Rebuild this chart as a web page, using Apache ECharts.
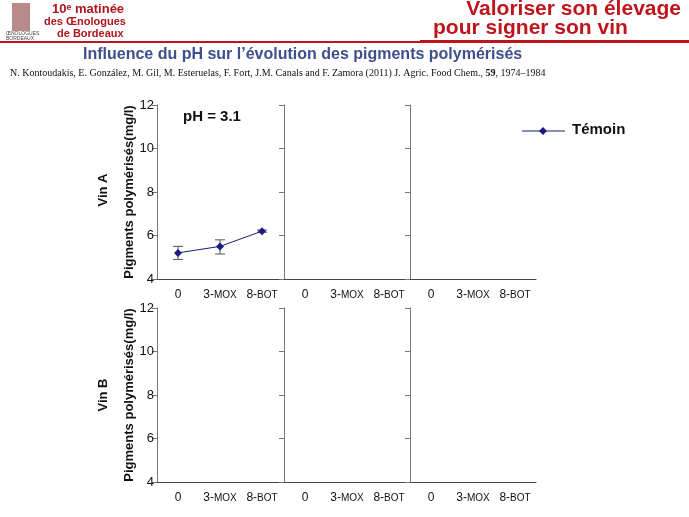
<!DOCTYPE html><html><head><meta charset="utf-8"><script src="https://cdn.jsdelivr.net/npm/echarts@6/dist/echarts.min.js"></script>
<style>html,body{margin:0;background:#fff}#c{width:689px;height:517px}</style></head><body><div id="c"></div><script>
const categories=['0','3-MOX','8-BOT'];
const yTicks=[4,6,8,10,12];
const temoinMean=[5.2,5.5,6.2];
const temoinLow=[4.9,5.15,6.15];
const temoinHigh=[5.5,5.8,6.25];
const rows=['Vin A','Vin B'];
const ch=echarts.init(document.getElementById('c'));
const lefts=[157,284,410], tops=[105,308], W=126, H=174;
const grid=[],xAxis=[],yAxis=[],series=[];
let i=0;
for(let r=0;r<2;r++)for(let c=0;c<3;c++){
 grid.push({left:lefts[c],top:tops[r],width:W,height:H});
 xAxis.push({type:'category',gridIndex:i,data:categories,boundaryGap:true,
  axisLine:{lineStyle:{color:'#444'}},axisTick:{alignWithLabel:true,inside:true,length:4,lineStyle:{color:'#444'}},
  axisLabel:{interval:0,color:'#111',fontSize:12,fontFamily:'Liberation Sans',margin:10,
   formatter:v=>{const p=v.split('-');return p.length>1?p[0]+'-{s|'+p[1]+'}':v;},rich:{s:{fontSize:10,fontFamily:'Liberation Sans',color:'#111'}}}});
 yAxis.push({type:'value',gridIndex:i,min:4,max:12,interval:2,
  name:c===0?'Pigments polymérisés(mg/l)':'',nameLocation:'middle',nameGap:21,nameTextStyle:{fontSize:13,fontWeight:'bold',color:'#111',fontFamily:'Liberation Sans'},
  axisLine:{show:true,lineStyle:{color:'#777'}},axisTick:{show:true,inside:false,length:5,lineStyle:{color:'#777'}},
  axisLabel:{show:c===0,color:'#111',fontSize:13,fontFamily:'Liberation Sans',margin:3,formatter:v=>yTicks.includes(v)?String(v):''},
  splitLine:{show:false}});
 i++;
}
series.push({type:'line',xAxisIndex:0,yAxisIndex:0,data:temoinMean,symbol:'diamond',symbolSize:8,
 lineStyle:{color:'#1a1a80',width:1},itemStyle:{color:'#1a1a80'}});
series.push({type:'custom',xAxisIndex:0,yAxisIndex:0,data:categories.map((c,k)=>[k,temoinLow[k],temoinHigh[k]]),
 renderItem:(p,api)=>{const lo=api.coord([api.value(0),api.value(1)]),hi=api.coord([api.value(0),api.value(2)]);const w=5;
  const st={stroke:'#555',lineWidth:1};
  return {type:'group',children:[{type:'line',shape:{x1:lo[0],y1:lo[1],x2:hi[0],y2:hi[1]},style:st},
   {type:'line',shape:{x1:lo[0]-w,y1:lo[1],x2:lo[0]+w,y2:lo[1]},style:st},
   {type:'line',shape:{x1:hi[0]-w,y1:hi[1],x2:hi[0]+w,y2:hi[1]},style:st}]};},z:1});
const F='Liberation Sans';
ch.setOption({animation:false,grid,xAxis,yAxis,series,
 graphic:[
  {type:'rect',shape:{x:0,y:41,width:689,height:2},style:{fill:'#c0141c'}},
  {type:'rect',shape:{x:420,y:40,width:269,height:3},style:{fill:'#c0141c'}},
  {type:'rect',shape:{x:12,y:3,width:18,height:28},style:{fill:'#b88a8a'}},
  {type:'text',left:6,top:31,style:{text:'ŒNOLOGUES\nBORDEAUX',font:'5px '+F,fill:'#444'}},
  {type:'text',left:52,top:3,style:{text:'10ᵉ matinée',font:'bold 13px '+F,fill:'#b0141c'}},
  {type:'text',left:44,top:16,style:{text:'des Œnologues',font:'bold 11px '+F,fill:'#b0141c'}},
  {type:'text',left:57,top:28,style:{text:'de Bordeaux',font:'bold 11px '+F,fill:'#b0141c'}},
  {type:'text',right:8,top:-1,style:{text:'Valoriser son élevage',font:'bold 21px '+F,fill:'#c0141c'}},
  {type:'text',left:433,top:18,style:{text:'pour signer son vin',font:'bold 21px '+F,fill:'#c0141c'}},
  {type:'text',left:83,top:47,style:{text:'Influence du pH sur l’évolution des pigments polymérisés',font:'bold 16px '+F,fill:'#3d4f8c'}},
  {type:'text',left:10,top:68,style:{rich:{a:{font:'10px Liberation Serif',fill:'#111'},b:{font:'bold 10px Liberation Serif',fill:'#111'}},text:'{a|N. Kontoudakis, E. González, M. Gil, M. Esteruelas, F. Fort, J.M. Canals and F. Zamora (2011) J. Agric. Food Chem., }{b|59}{a|, 1974–1984}'}},
  {type:'text',left:183,top:109,style:{text:'pH = 3.1',font:'bold 15px '+F,fill:'#111'}},
  {type:'text',x:103,y:190,rotation:Math.PI/2,style:{text:'Vin A',font:'bold 13px '+F,fill:'#111',align:'center',verticalAlign:'middle'}},
  {type:'text',x:103,y:395,rotation:Math.PI/2,style:{text:'Vin B',font:'bold 13px '+F,fill:'#111',align:'center',verticalAlign:'middle'}},
  {type:'line',shape:{x1:522,y1:131,x2:565,y2:131},style:{stroke:'#1a1a80',lineWidth:1}},
  {type:'polygon',shape:{points:[[543,127],[547,131],[543,135],[539,131]]},style:{fill:'#1a1a80'}},
  {type:'text',left:572,top:122,style:{text:'Témoin',font:'bold 15px '+F,fill:'#111'}}
 ]});
</script></body></html>
